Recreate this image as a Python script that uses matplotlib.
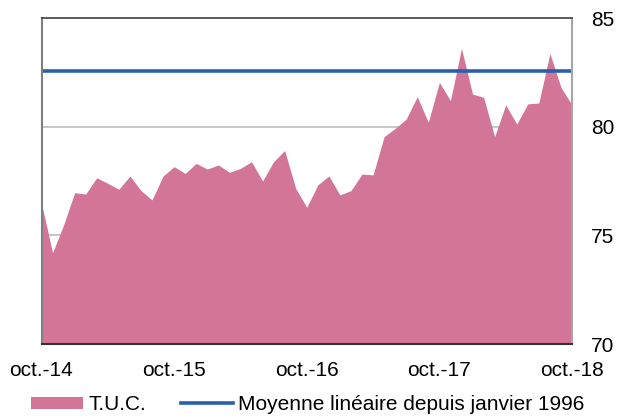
import matplotlib
matplotlib.use("Agg")
import matplotlib.pyplot as plt
from matplotlib.patches import Patch
from matplotlib.lines import Line2D
import numpy as np

plt.rcParams['font.family'] = ['Liberation Sans', 'DejaVu Sans']

# Monthly values, oct.-14 .. oct.-18
tuc = [76.47, 74.2, 75.48, 76.96, 76.9, 77.65, 77.39, 77.12, 77.73, 77.06,
       76.63, 77.73, 78.16, 77.85, 78.31, 78.05, 78.24, 77.9, 78.08, 78.39,
       77.5, 78.39, 78.9, 77.16, 76.29, 77.32, 77.73, 76.86, 77.06, 77.82,
       77.78, 79.54, 79.92, 80.35, 81.38, 80.2, 82.04, 81.2, 83.6, 81.5,
       81.35, 79.54, 81.0, 80.12, 81.05, 81.09, 83.37, 81.81, 81.0]
moyenne = 82.56
tick_labels = ["oct.-14", "oct.-15", "oct.-16", "oct.-17", "oct.-18"]
y_ticks = [70, 75, 80, 85]

x = np.arange(len(tuc))
area_color = "#D27598"
line_color = "#2A5FAD"

fig = plt.figure(figsize=(6.19, 4.16), dpi=100)
ax = fig.add_axes([41.5/619, 1-344/416, (572-41.5)/619, (344-18)/416])

ax.fill_between(x, 70, tuc, color=area_color, lw=0, zorder=2)
ax.axhline(moyenne, color=line_color, lw=2.6, zorder=3)

ax.set_xlim(0, len(tuc)-1)
ax.set_ylim(70, 85)
for yv in [75, 80]:
    ax.axhline(yv, color="#BDBDBD", lw=1.2, zorder=1)

ax.yaxis.tick_right()
ax.set_yticks(y_ticks)
ax.set_yticklabels([str(v) for v in y_ticks], fontsize=15)
ax.tick_params(axis='y', length=0, pad=13.7)

ax.set_xticks(x[::12])
ax.set_xticklabels(tick_labels, fontsize=15)
ax.set_xticks(x[6::12], minor=True)
ax.tick_params(axis='x', which='both', direction='in', length=4.5, width=1.2,
               color="#222222", pad=12)

ax.spines['left'].set_color("#7F7F7F")
ax.spines['left'].set_linewidth(1.5)
ax.spines['top'].set_color("#404040")
ax.spines['top'].set_linewidth(1.2)
ax.spines['right'].set_color("#A6A6A6")
ax.spines['right'].set_linewidth(1.5)
ax.spines['bottom'].set_color("#333333")
ax.spines['bottom'].set_linewidth(1.5)
for s in ax.spines.values():
    s.set_zorder(4)

handles = [Patch(facecolor=area_color, edgecolor='none'),
           Line2D([0], [0], color=line_color, lw=2.6)]
fig.legend(handles, ["T.U.C.", "Moyenne linéaire depuis janvier 1996"],
           loc='center left', bbox_to_anchor=(31/619, 1-404.5/416), ncol=2,
           frameon=False, fontsize=15, handlelength=2.5, handleheight=0.5,
           handletextpad=0.25, columnspacing=1.67, borderpad=0, borderaxespad=0)

fig.savefig("out.png", dpi=100)
